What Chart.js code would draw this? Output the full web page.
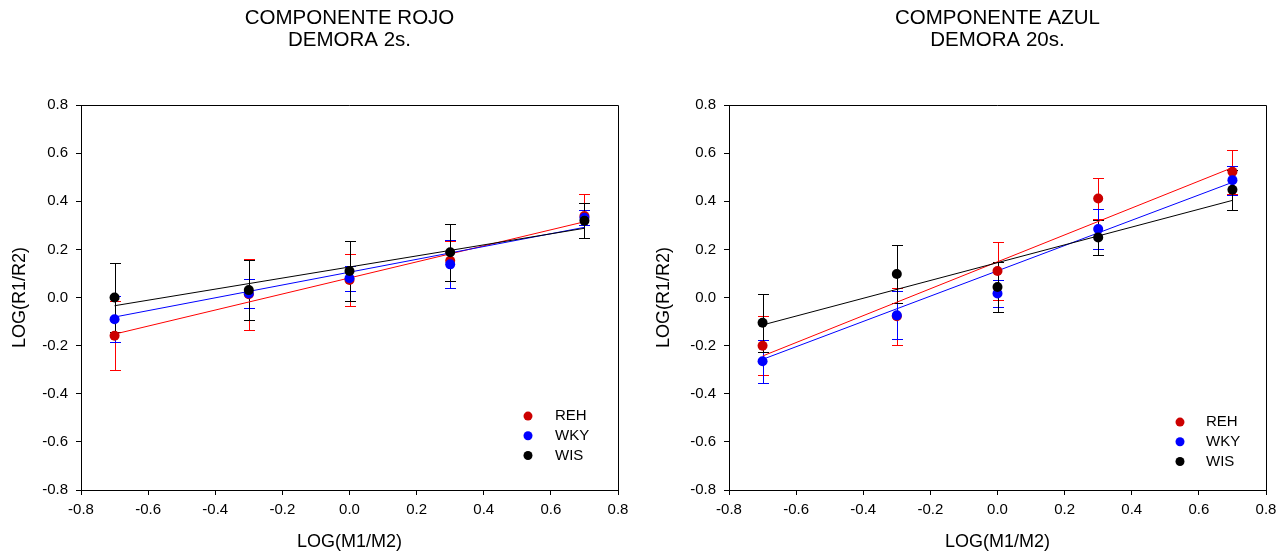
<!DOCTYPE html>
<html>
<head>
<meta charset="utf-8">
<script src="https://cdn.jsdelivr.net/npm/chart.js@4/dist/chart.umd.min.js"></script>
<style>
html, body { margin: 0; padding: 0; background: #fff; overflow: hidden; }
#wrap { position: relative; width: 1288px; height: 556px; }
.box { position: absolute; top: 0; width: 644px; height: 556px; }
</style>
</head>
<body>
<div id="wrap">
	<div class="box" style="left:0"><canvas id="chartRojo" width="644" height="556"></canvas></div>
	<div class="box" style="left:644px"><canvas id="chartAzul" width="644" height="556"></canvas></div>
</div>
<script>
// x positions shared by both panels
const xVals = [-0.7, -0.3, 0, 0.3, 0.7];
const axisTicks = [-0.8, -0.6, -0.4, -0.2, 0, 0.2, 0.4, 0.6, 0.8];
const seriesNames = ['REH', 'WKY', 'WIS'];

// COMPONENTE ROJO - DEMORA 2s.
const rojoReh = [-0.159, 0.014, 0.073, 0.153, 0.339];
const rojoRehErr = [0.143, 0.148, 0.110, 0.083, 0.092];
const rojoWky = [-0.090, 0.017, 0.080, 0.138, 0.332];
const rojoWkyErr = [0.095, 0.059, 0.052, 0.100, 0.032];
const rojoWis = [0.000, 0.031, 0.110, 0.188, 0.319];
const rojoWisErr = [0.145, 0.124, 0.126, 0.118, 0.072];
// regression line ends (at x=-0.7 and x=0.7)
const rojoRehFit = [-0.152, 0.315];
const rojoWkyFit = [-0.081, 0.292];
const rojoWisFit = [-0.034, 0.288];

// COMPONENTE AZUL - DEMORA 20s.
const azulReh = [-0.200, -0.078, 0.110, 0.412, 0.523];
const azulRehErr = [0.122, 0.119, 0.120, 0.085, 0.092];
const azulWky = [-0.265, -0.074, 0.017, 0.285, 0.488];
const azulWkyErr = [0.090, 0.100, 0.055, 0.082, 0.060];
const azulWis = [-0.105, 0.098, 0.044, 0.250, 0.448];
const azulWisErr = [0.120, 0.120, 0.105, 0.072, 0.083];
const azulRehFit = [-0.243, 0.540];
const azulWkyFit = [-0.257, 0.479];
const azulWisFit = [-0.114, 0.404];

const FONT = "'Liberation Sans', Arial, sans-serif";
const lineColors = ['#ff0000', '#0000ff', '#000000'];
const dotColors = ['#cc0000', '#0000ff', '#000000'];

function fmt(v) {
	if (Math.abs(v) < 1e-9) v = 0;
	return v.toFixed(1);
}

// vertical error bars with caps, drawn under the points
const errorBars = {
	id: 'errorBars',
	beforeDatasetsDraw(chart, args, opts) {
		const ctx = chart.ctx;
		const x = chart.scales.x, y = chart.scales.y;
		ctx.save();
		ctx.lineWidth = 1;
		opts.sets.forEach((s, k) => {
			ctx.strokeStyle = lineColors[k];
			xVals.forEach((xv, i) => {
				const px = Math.round(x.getPixelForValue(xv)) + 0.5;
				const top = Math.round(y.getPixelForValue(s.vals[i] + s.errs[i])) + 0.5;
				const bot = Math.round(y.getPixelForValue(s.vals[i] - s.errs[i])) + 0.5;
				ctx.beginPath();
				ctx.moveTo(px, top); ctx.lineTo(px, bot);
				ctx.moveTo(px - 5.5, top); ctx.lineTo(px + 5.5, top);
				ctx.moveTo(px - 5.5, bot); ctx.lineTo(px + 5.5, bot);
				ctx.stroke();
			});
		});
		ctx.restore();
	}
};

// top and right sides of the frame
const frame = {
	id: 'frame',
	afterDraw(chart) {
		const {ctx, chartArea: a} = chart;
		ctx.save();
		ctx.strokeStyle = '#000';
		ctx.lineWidth = 1;
		ctx.beginPath();
		ctx.moveTo(Math.round(a.left), Math.round(a.top) + 0.5);
		ctx.lineTo(Math.round(a.right) + 0.5, Math.round(a.top) + 0.5);
		ctx.lineTo(Math.round(a.right) + 0.5, Math.round(a.bottom));
		ctx.stroke();
		ctx.restore();
	}
};

// legend box inside the plot, lower right
const innerLegend = {
	id: 'innerLegend',
	afterDatasetsDraw(chart, args, opts) {
		const {ctx, chartArea: a} = chart;
		ctx.save();
		ctx.font = '15px ' + FONT;
		ctx.textBaseline = 'middle';
		ctx.textAlign = 'left';
		seriesNames.forEach((name, k) => {
			const yy = a.top + opts.top + k * opts.step;
			ctx.fillStyle = dotColors[k];
			ctx.beginPath();
			ctx.arc(a.right - opts.dot, yy, 4.5, 0, Math.PI * 2);
			ctx.fill();
			ctx.fillStyle = '#000';
			ctx.fillText(name, a.right - opts.text, yy);
		});
		ctx.restore();
	}
};

function makeChart(id, title, vals, errs, fits, legendOpts, yWidth) {
	const datasets = [];
	// points: WIS on top of WKY on top of REH
	vals.forEach((v, k) => {
		datasets.push({
			label: seriesNames[k],
			data: xVals.map((xv, i) => ({x: xv, y: v[i]})),
			showLine: false,
			pointRadius: 5,
			pointBackgroundColor: dotColors[k],
			pointBorderWidth: 0,
			order: 2 - k
		});
	});
	fits.forEach((f, k) => {
		datasets.push({
			label: seriesNames[k] + ' fit',
			data: [{x: xVals[0], y: f[0]}, {x: xVals[xVals.length - 1], y: f[1]}],
			showLine: true,
			borderColor: lineColors[k],
			borderWidth: 1,
			pointRadius: 0,
			order: 5 - k
		});
	});

	const tickFont = {family: FONT, size: 15};
	const titleFont = {family: FONT, size: 18};

	return new Chart(document.getElementById(id), {
		type: 'scatter',
		data: {datasets: datasets},
		options: {
			responsive: false,
			animation: false,
			layout: {padding: {left: 0, right: 644 - yWidth - 537, top: 0, bottom: 0}},
			plugins: {
				legend: {display: false},
				tooltip: {enabled: false},
				title: {
					display: true,
					text: title,
					fullSize: false,
					color: '#000',
					font: {family: FONT, size: 20.5, weight: 'normal', lineHeight: 1.1},
					padding: {top: 7, bottom: 53}
				},
				errorBars: {sets: vals.map((v, k) => ({vals: v, errs: errs[k]}))},
				innerLegend: legendOpts
			},
			scales: {
				x: {
					type: 'linear',
					min: -0.8,
					max: 0.8,
					afterBuildTicks: s => { s.ticks = axisTicks.map(v => ({value: v})); },
					afterFit: s => { s.height = 66; },
					ticks: {callback: fmt, font: tickFont, color: '#000', padding: 6, maxRotation: 0},
					grid: {drawOnChartArea: false, tickLength: 5, color: '#000'},
					border: {color: '#000'},
					title: {display: true, text: 'LOG(M1/M2)', color: '#000', font: titleFont, padding: {top: 0, bottom: 3}}
				},
				y: {
					type: 'linear',
					min: -0.8,
					max: 0.8,
					afterBuildTicks: s => { s.ticks = axisTicks.map(v => ({value: v})); },
					afterFit: s => { s.width = yWidth; },
					ticks: {callback: fmt, font: tickFont, color: '#000', padding: 8},
					grid: {drawOnChartArea: false, tickLength: 5, color: '#000'},
					border: {color: '#000'},
					title: {display: true, text: 'LOG(R1/R2)', color: '#000', font: titleFont, padding: {top: 9, bottom: 0}}
				}
			}
		},
		plugins: [errorBars, frame, innerLegend]
	});
}

makeChart('chartRojo', ['COMPONENTE ROJO', 'DEMORA 2s.'],
	[rojoReh, rojoWky, rojoWis], [rojoRehErr, rojoWkyErr, rojoWisErr],
	[rojoRehFit, rojoWkyFit, rojoWisFit],
	{top: 311, step: 19.7, dot: 90, text: 63}, 81);

makeChart('chartAzul', ['COMPONENTE AZUL', 'DEMORA 20s.'],
	[azulReh, azulWky, azulWis], [azulRehErr, azulWkyErr, azulWisErr],
	[azulRehFit, azulWkyFit, azulWisFit],
	{top: 317, step: 19.7, dot: 86, text: 60}, 85);
</script>
</body>
</html>
